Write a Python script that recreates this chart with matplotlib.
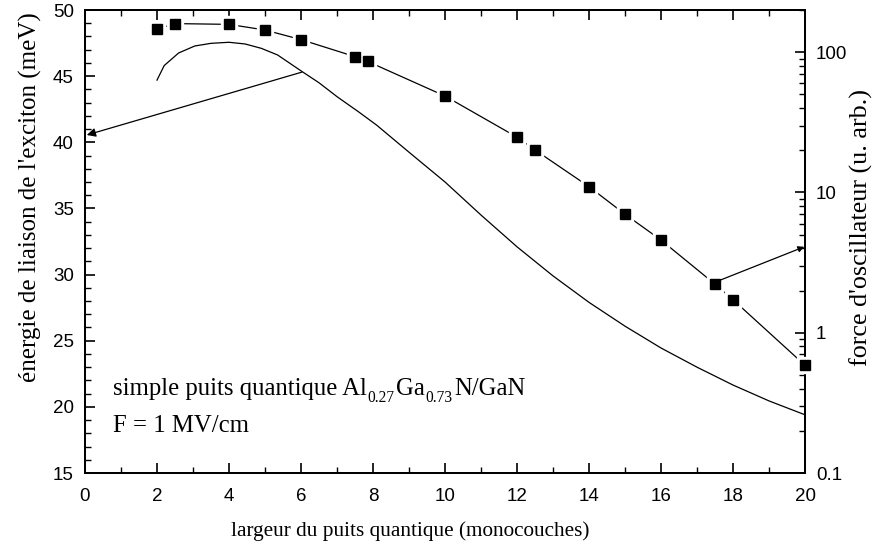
import matplotlib
matplotlib.use("Agg")
import matplotlib.pyplot as plt
from matplotlib.ticker import MultipleLocator, LogLocator, NullFormatter

# Oscillator strength (right axis, log) - squares
sq_x = [2, 2.5, 4, 5, 6, 7.5, 7.85, 10, 12, 12.5, 14, 15, 16, 17.5, 18, 20]
sq_f = [146, 160, 158, 144, 123, 93, 86, 48.7, 24.8, 20.1, 11.0, 7.0, 4.58, 2.22, 1.72, 0.586]

# Exciton binding energy (left axis, meV) - curve
cv_x = [2.0, 2.2, 2.6, 3.05, 3.5, 4.0, 4.45, 4.9, 5.35, 6.0, 6.5, 7.0, 7.6, 8.1,
        9.0, 10.0, 11.0, 12.0, 13.0, 14.0, 15.0, 16.0, 17.0, 18.0, 19.0, 20.0]
cv_e = [44.7, 45.8, 46.75, 47.28, 47.48, 47.56, 47.43, 47.1, 46.6, 45.4, 44.5, 43.45,
        42.3, 41.3, 39.25, 37.0, 34.5, 32.1, 29.9, 27.9, 26.1, 24.45, 23.0, 21.65,
        20.45, 19.4]

xticks = [0, 2, 4, 6, 8, 10, 12, 14, 16, 18, 20]
yticks_left = [15, 20, 25, 30, 35, 40, 45, 50]
yticks_right = [0.1, 1, 10, 100]
yticklabels_right = ["0.1", "1", "10", "100"]

sans = "Liberation Sans"
serif = "Liberation Serif"

W, H = 883, 551
fig = plt.figure(figsize=(W/100, H/100), dpi=100)
ax1 = fig.add_axes([85/W, 1-473/H, 720/W, 463/H])
ax2 = ax1.twinx()

ax1.plot(cv_x, cv_e, color="black", lw=0.9)
ax1.set_xlim(0, 20)
ax1.set_ylim(15, 50)

ax2.plot(sq_x, sq_f, color="black", lw=0.9, zorder=2)
ax2.plot(sq_x, sq_f, ls="none", marker="s", ms=11.5, mfc="white", mec="white",
         zorder=3, clip_on=False)
ax2.plot(sq_x, sq_f, ls="none", marker="s", ms=7.6, mfc="black", mec="black",
         zorder=4, clip_on=False)
ax2.set_yscale("log")
ax2.set_ylim(0.1, 200)
ax2.set_xlim(0, 20)

# ticks
ax1.set_xticks(xticks)
ax1.xaxis.set_minor_locator(MultipleLocator(1))
ax1.set_yticks(yticks_left)
ax1.yaxis.set_minor_locator(MultipleLocator(1))
ax1.tick_params(axis="x", which="both", direction="in", top=True, bottom=True)
ax1.tick_params(axis="y", which="both", direction="in", left=True, right=False)
ax1.tick_params(which="major", length=7, width=1.2, labelsize=13.5)
ax1.tick_params(which="minor", length=4, width=1.0)
ax1.tick_params(axis="x", which="major", pad=11)
ax1.tick_params(axis="y", which="major", pad=8)

ax2.set_yticks(yticks_right)
ax2.set_yticklabels(yticklabels_right)
ax2.yaxis.set_minor_locator(LogLocator(base=10, subs=range(2, 10)))
ax2.yaxis.set_minor_formatter(NullFormatter())
ax2.tick_params(axis="y", which="both", direction="in")
ax2.tick_params(which="major", length=7, width=1.2, labelsize=13.5, pad=8)
ax2.tick_params(which="minor", length=4, width=1.0)

for lab in ax1.get_xticklabels() + ax1.get_yticklabels() + ax2.get_yticklabels():
    lab.set_family(sans)

for ax in (ax1, ax2):
    for s in ax.spines.values():
        s.set_linewidth(1.4)

# axis labels (placed to match reference)
fig.text(410/W, 1-536/H, "largeur du puits quantique (monocouches)", family=serif,
         fontsize=15.3, ha="center", va="baseline")
fig.text(30/W, 1-197/H, "énergie de liaison de l'exciton (meV)", family=serif,
         fontsize=18.0, ha="center", va="center", rotation=90)
fig.text(861/W, 1-228/H, "force d'oscillateur (u. arb.)", family=serif,
         fontsize=18.8, ha="center", va="center", rotation=90)

# annotation text built from pieces (main text + lowered small subscripts)
renderer = fig.canvas.get_renderer()

def draw_pieces(x_px, base_px, pieces):
    x = x_px
    for txt, size, dy in pieces:
        t = fig.text(x/W, 1-(base_px+dy)/H, txt, family=serif, fontsize=size,
                     ha="left", va="baseline")
        bb = t.get_window_extent(renderer=renderer)
        x += bb.width + (2 if dy else 0)

main = 17.8
sub = 11.2
draw_pieces(113, 395, [("simple puits quantique Al", main, 0), ("0.27", sub, 7),
                       ("Ga", main, 0), ("0.73", sub, 7), ("N/GaN", main, 0)])
draw_pieces(113, 432, [("F = 1 MV/cm", main, 0)])

ax1.annotate("", xy=(0.05, 40.55), xytext=(6.02, 45.3),
             arrowprops=dict(arrowstyle="-|>", mutation_scale=13, lw=0.9,
                             color="black", shrinkA=0, shrinkB=0))
ax2.annotate("", xy=(19.98, 4.1), xytext=(17.55, 2.32),
             arrowprops=dict(arrowstyle="-|>", mutation_scale=9, lw=0.9,
                             color="black", shrinkA=0, shrinkB=0), zorder=5)

fig.savefig("out.png", dpi=100)
